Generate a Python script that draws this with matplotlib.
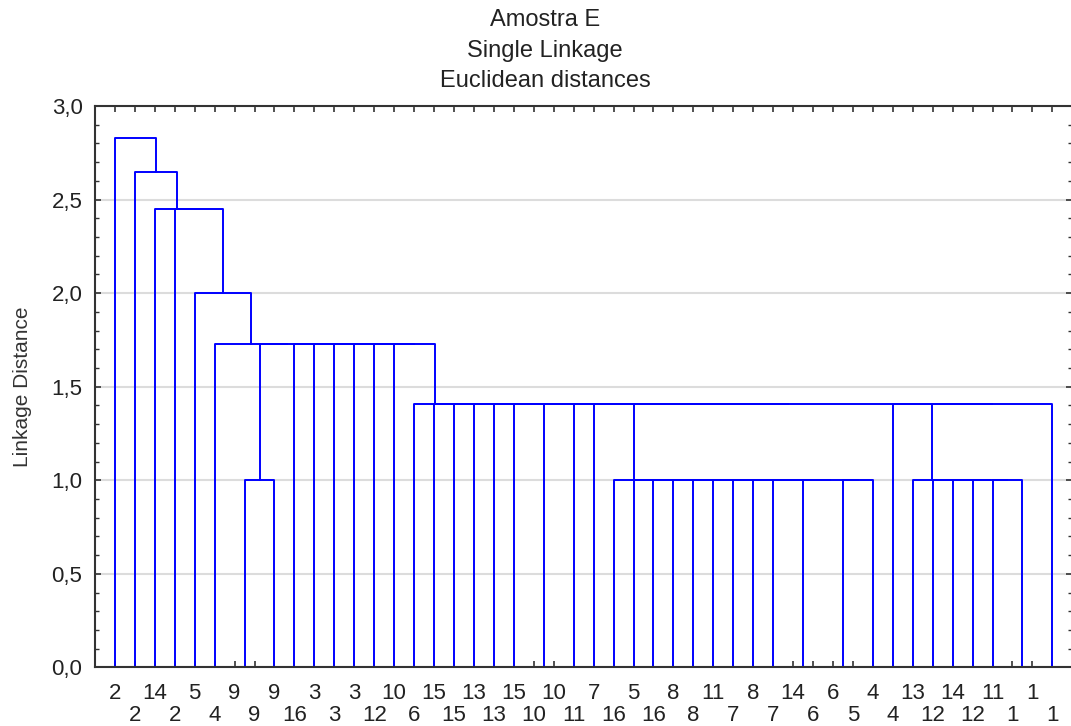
import matplotlib
matplotlib.use("Agg")
import matplotlib.pyplot as plt
from matplotlib.ticker import MultipleLocator, FuncFormatter

plt.rcParams['font.family'] = ['Liberation Sans', 'DejaVu Sans']

# case labels of the leaves, left to right
leaf_labels = [2, 2, 14, 2, 5, 4, 9, 9, 9, 16,
               3, 3, 3, 12, 10, 6, 15, 15, 13, 13,
               15, 10, 10, 11, 7, 16, 5, 16, 8, 8,
               11, 7, 8, 7, 14, 6, 6, 5, 4, 4,
               13, 12, 14, 12, 11, 1, 1, 1]

# clusters joined at the same linkage distance (members: leaf index or earlier cluster name)
cluster_names = ['a', 'b', 'c', 'd', 'e', 'f', 'g', 'h', 'i', 'j', 'k', 'l', 'm', 'n']
cluster_heights = [0.0, 0.0, 0.0, 0.0, 0.0, 1.0, 1.0, 1.0, 1.41, 1.73, 2.0, 2.45, 2.65, 2.83]
cluster_members = [
    [6, 7],
    [21, 22],
    [34, 35],
    [36, 37],
    [45, 46],
    ['a', 8],
    [25, 26, 27, 28, 29, 30, 31, 32, 33, 'c', 'd', 38],
    [40, 41, 42, 43, 44, 'e'],
    [15, 16, 17, 18, 19, 20, 'b', 23, 24, 'g', 39, 'h', 47],
    [5, 'f', 9, 10, 11, 12, 13, 14, 'i'],
    [4, 'j'],
    [2, 3, 'k'],
    [1, 'l'],
    [0, 'm'],
]

fig = plt.figure(figsize=(10.71, 7.26), dpi=100)
ax = fig.add_axes([0.0887, 0.0806, 0.9125, 0.7734])

line_kw = dict(color='#0000ff', lw=1.4, solid_capstyle='projecting')

# x, height of every node
node = {}
for i in range(len(leaf_labels)):
    node[i] = (float(i), 0.0)

for name, h, members in zip(cluster_names, cluster_heights, cluster_members):
    cx, ch = node[members[-1]]
    # join from right to left, new node sits midway between its two children
    for m in reversed(members[:-1]):
        mx, mh = node[m]
        if h > 0:
            ax.plot([mx, mx, cx, cx], [mh, h, h, ch], **line_kw)
        cx, ch = (mx + cx) / 2, h
    node[name] = (cx, ch)

ax.set_xlim(-1, 48)
ax.set_ylim(0, 3.0)

# labels on two rows: even leaves on the upper row, odd leaves on the lower row
idx = list(range(len(leaf_labels)))
ax.set_xticks(idx[0::2], [str(v) for v in leaf_labels[0::2]], fontsize=16)
ax.set_xticks(idx[1::2], [str(v) for v in leaf_labels[1::2]], fontsize=16, minor=True)

ax.yaxis.set_major_locator(MultipleLocator(0.5))
ax.yaxis.set_minor_locator(MultipleLocator(0.1))
ax.yaxis.set_major_formatter(FuncFormatter(lambda v, p: f"{v:.1f}".replace('.', ',')))
ax.tick_params(axis='y', labelsize=16, pad=9)
ax.tick_params(which='both', direction='in', top=True, right=True, color='#333333',
               labelcolor='#222222')
ax.tick_params(which='major', length=4, width=1.2)
ax.tick_params(which='minor', length=3, width=1)
ax.tick_params(axis='x', which='minor', length=4, width=1.2)
ax.tick_params(axis='x', which='major', pad=11)
ax.tick_params(axis='x', which='minor', pad=27)

ax.grid(axis='y', color='#dcdcdc', lw=1.5)
ax.set_axisbelow(True)
for s in ax.spines.values():
    s.set_linewidth(1.5)
    s.set_color('#333333')

ax.set_ylabel('Linkage Distance', fontsize=15, color='#333333')
ax.yaxis.set_label_coords(-0.064, 0.5)

fig.text(0.509, 0.93, 'Amostra E\nSingle Linkage\nEuclidean distances',
         ha='center', va='center', fontsize=17, linespacing=1.5, color='#222222')

fig.savefig('out.png', dpi=100)
